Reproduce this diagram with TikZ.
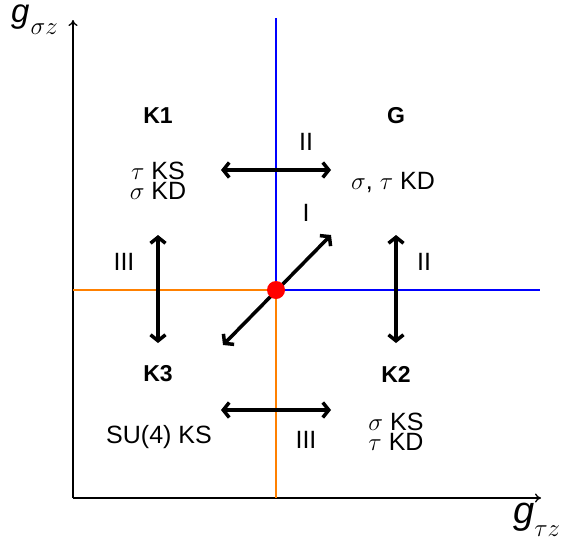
\documentclass[tikz,border=0pt]{standalone}
\usepackage{fontspec}
\setmainfont{Liberation Sans}
\usetikzlibrary{arrows.meta}
\definecolor{myorange}{RGB}{255,128,0}
\begin{document}
\begin{tikzpicture}[x=1pt,y=-1pt,
  lbl/.style={font=\fontsize{25}{25}\selectfont, inner sep=0pt},
  blbl/.style={font=\fontsize{23}{23}\selectfont\bfseries, inner sep=0pt},
  two/.style={font=\fontsize{25}{20}\selectfont, inner sep=0pt, align=center},
  axis/.style={line width=1.3pt, -{To[length=6pt,width=9pt]}},
  big/.style={line width=3.5pt, line cap=round, {Straight Barb[length=6pt,width=15pt]}-{Straight Barb[length=6pt,width=15pt]}}]
\useasboundingbox (0,0) rectangle (585,546);
% axes
\coordinate (O) at (73,498);
\coordinate (Ytop) at (73,20);
\coordinate (Xend) at (541,498);
\draw[axis] (O) -- (Ytop);
\draw[axis] (O) -- (Xend);
% phase boundaries
\coordinate (C) at (276,290);
\coordinate (Btop) at (276,18);
\coordinate (Bright) at (540,290);
\coordinate (Oleft) at (73,290);
\coordinate (Obot) at (276,498);
\draw[blue, line width=1.3pt] (Btop) -- (C) -- (Bright);
\draw[myorange, line width=1.3pt] (Oleft) -- (C) -- (Obot);
% axis labels
\node[anchor=base west, inner sep=0pt] (gy) at (11,22) {\fontsize{33}{33}\selectfont\itshape g\kern1pt\raisebox{-12pt}{\fontsize{25}{25}\selectfont$\sigma z$}};
\node[anchor=base west, inner sep=0pt] (gx) at (513,523) {\fontsize{38}{38}\selectfont\itshape g\kern0pt\raisebox{-13pt}{\fontsize{24}{24}\selectfont$\tau z$}};
% phase labels
\node[blbl] (K1) at (158,116) {K1};
\node[blbl] (G) at (396,116) {G};
\node[blbl] (K3) at (158,374) {K3};
\node[blbl] (K2) at (396,374) {K2};
\node[two] (K1t) at (158,181) {$\tau$ KS\\$\sigma$ KD};
\node[lbl] (Gt) at (393,182) {$\sigma$, $\tau$ KD};
\node[lbl] (K3t) at (159,437) {SU(4) KS};
\node[two] (K2t) at (396,432) {$\sigma$ KS\\$\tau$ KD};
% transition arrows
\coordinate (a1) at (221,170); \coordinate (b1) at (331,170);
\coordinate (a2) at (221,410); \coordinate (b2) at (331,410);
\coordinate (a3) at (158,235); \coordinate (b3) at (158,343);
\coordinate (a4) at (396,235); \coordinate (b4) at (396,343);
\coordinate (a5) at (223,345); \coordinate (b5) at (331,235);
\draw[big] (a1) -- (b1);
\draw[big] (a2) -- (b2);
\draw[big] (a3) -- (b3);
\draw[big] (a4) -- (b4);
\draw[big] (a5) -- (b5);
\node[lbl] (t1) at (306,142) {II};
\node[lbl] (t2) at (306,440) {III};
\node[lbl] (t3) at (124,262) {III};
\node[lbl] (t4) at (424,262) {II};
\node[lbl] (t5) at (306,213) {I};
% critical point
\fill[red] (C) circle (9);
\end{tikzpicture}
\end{document}
